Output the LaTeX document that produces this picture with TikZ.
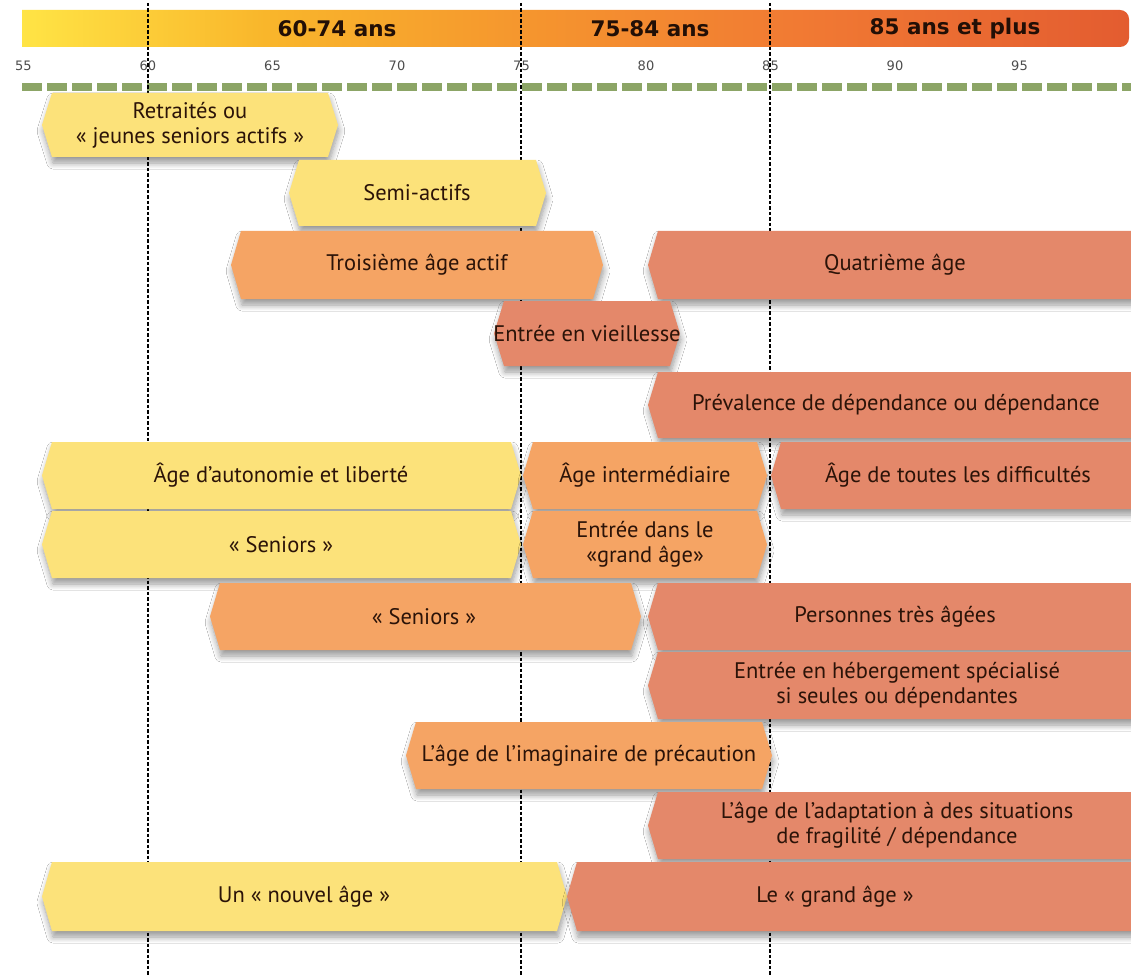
\documentclass[tikz,border=0pt]{standalone}
\usepackage{fontspec}
\setmainfont{PT Sans}
\newfontfamily\hdrfont{DejaVu Sans}
\newfontfamily\axfont{DejaVu Sans}
\usetikzlibrary{shadows.blur}
\definecolor{cyel}{HTML}{FCE27A}
\definecolor{corg}{HTML}{F5A464}
\definecolor{csal}{HTML}{E4886A}
\definecolor{ctxt}{HTML}{2B1308}
\definecolor{cgrn}{HTML}{8CA566}
\definecolor{h1}{HTML}{FFE445}
\definecolor{h2}{HTML}{F9B62B}
\definecolor{h3}{HTML}{F5952E}
\definecolor{h4}{HTML}{F17A33}
\definecolor{h5}{HTML}{E35C30}
\pgfdeclarehorizontalshading{hdr}{100bp}{color(0bp)=(h1); color(25bp)=(h1); color(36bp)=(h2); color(48bp)=(h3); color(60bp)=(h4); color(75bp)=(h5); color(100bp)=(h5)}
\tikzset{
  boxshade/.style={blur shadow={shadow xshift=1pt, shadow yshift=-6pt, shadow blur radius=6pt, shadow opacity=40, shadow blur steps=8}},
  lbl/.style={text=ctxt, font=\fontsize{22.5}{25}\selectfont, align=center, inner sep=0pt},
  hdrlbl/.style={text=ctxt!80!black, font=\hdrfont\bfseries\fontsize{21.5}{24}\selectfont, inner sep=0pt},
  axlbl/.style={text=black!70, font=\axfont\fontsize{13}{14}\selectfont, inner sep=0pt},
  vdot/.style={line width=2.8pt, dash pattern=on 3.5pt off 2pt, black},
}
% #1 name, #2 x1, #3 x2, #4 y1, #5 y2, #6 fill, #7 text x, #8 text
\newcommand\agebox[8]{%
  \fill[#6, boxshade] (#2+10,#4) -- (#3-10,#4) -- (#3,{(#4+#5)/2}) -- (#3-10,#5) -- (#2+10,#5) -- (#2,{(#4+#5)/2}) -- cycle;
  \node[lbl] (#1) at (#7,{(#4+#5)/2}) {#8};}
\begin{document}
\begin{tikzpicture}[x=1pt,y=-1pt]
\useasboundingbox (0,0) rectangle (1131,976);
\fill[white] (0,0) rectangle (1131,976);
% header
\shade[shading=hdr] (22,10) [rounded corners=9pt] -- (1129,10) -- (1129,47) [sharp corners] -- (22,47) -- cycle;
\node[hdrlbl] (h6074) at (337,29) {60-74 ans};
\node[hdrlbl] (h7584) at (650,29) {75-84 ans};
\node[hdrlbl] (h85) at (955,29) {85 ans et plus};
% axis
\foreach \a [count=\i] in {55,60,...,95}{
  \node[axlbl] (ax\i) at ({148+(\a-60)*24.9},66) {\a};
}
\draw[cgrn, line width=8pt, dash pattern=on 20pt off 5pt] (22,87) -- (1131,87);
% vertical dotted lines
\coordinate (v60t) at (148,3); \coordinate (v60b) at (148,976);
\coordinate (v75t) at (521,3); \coordinate (v75b) at (521,976);
\coordinate (v85t) at (770,3); \coordinate (v85b) at (770,976);
\draw[vdot] (v60t) -- (v60b);
\draw[vdot] (v75t) -- (v75b);
\draw[vdot] (v85t) -- (v85b);
% boxes
\agebox{b1}{42}{338}{93}{157}{cyel}{190}{Retraités ou\\« jeunes seniors actifs »}
\agebox{b2}{289}{546}{160}{226}{cyel}{417}{Semi-actifs}
\agebox{b3}{231}{603}{231}{299}{corg}{417}{Troisième âge actif}
\agebox{b4}{648}{1145}{231}{299}{csal}{895}{Quatrième âge}
\agebox{b5}{494}{680}{301}{366}{csal}{587}{Entrée en vieillesse}
\agebox{b6}{648}{1145}{372}{438}{csal}{896}{Prévalence de dépendance ou dépendance}
\agebox{b7}{42}{521}{442}{509}{cyel}{281}{Âge d’autonomie et liberté}
\agebox{b8}{523}{767}{442}{509}{corg}{645}{Âge intermédiaire}
\agebox{b9}{771}{1145}{442}{509}{csal}{958}{Âge de toutes les difficultés}
\agebox{b10}{42}{521}{511}{578}{cyel}{281}{« Seniors »}
\agebox{b11}{523}{767}{511}{578}{corg}{645}{Entrée dans le\\«grand âge»}
\agebox{b12}{210}{641}{583}{650}{corg}{424}{« Seniors »}
\agebox{b13}{648}{1145}{583}{650}{csal}{895}{Personnes très âgées}
\agebox{b14}{648}{1145}{652}{719}{csal}{897}{Entrée en hébergement spécialisé\\si seules ou dépendantes}
\agebox{b15}{406}{772}{722}{789}{corg}{589}{L’âge de l’imaginaire de précaution}
\agebox{b16}{648}{1145}{792}{859}{csal}{897}{L’âge de l’adaptation à des situations\\de fragilité / dépendance}
\agebox{b17}{42}{567}{862}{931}{cyel}{304}{Un « nouvel âge »}
\agebox{b18}{567}{1145}{862}{931}{csal}{835}{Le « grand âge »}
\end{tikzpicture}
\end{document}
